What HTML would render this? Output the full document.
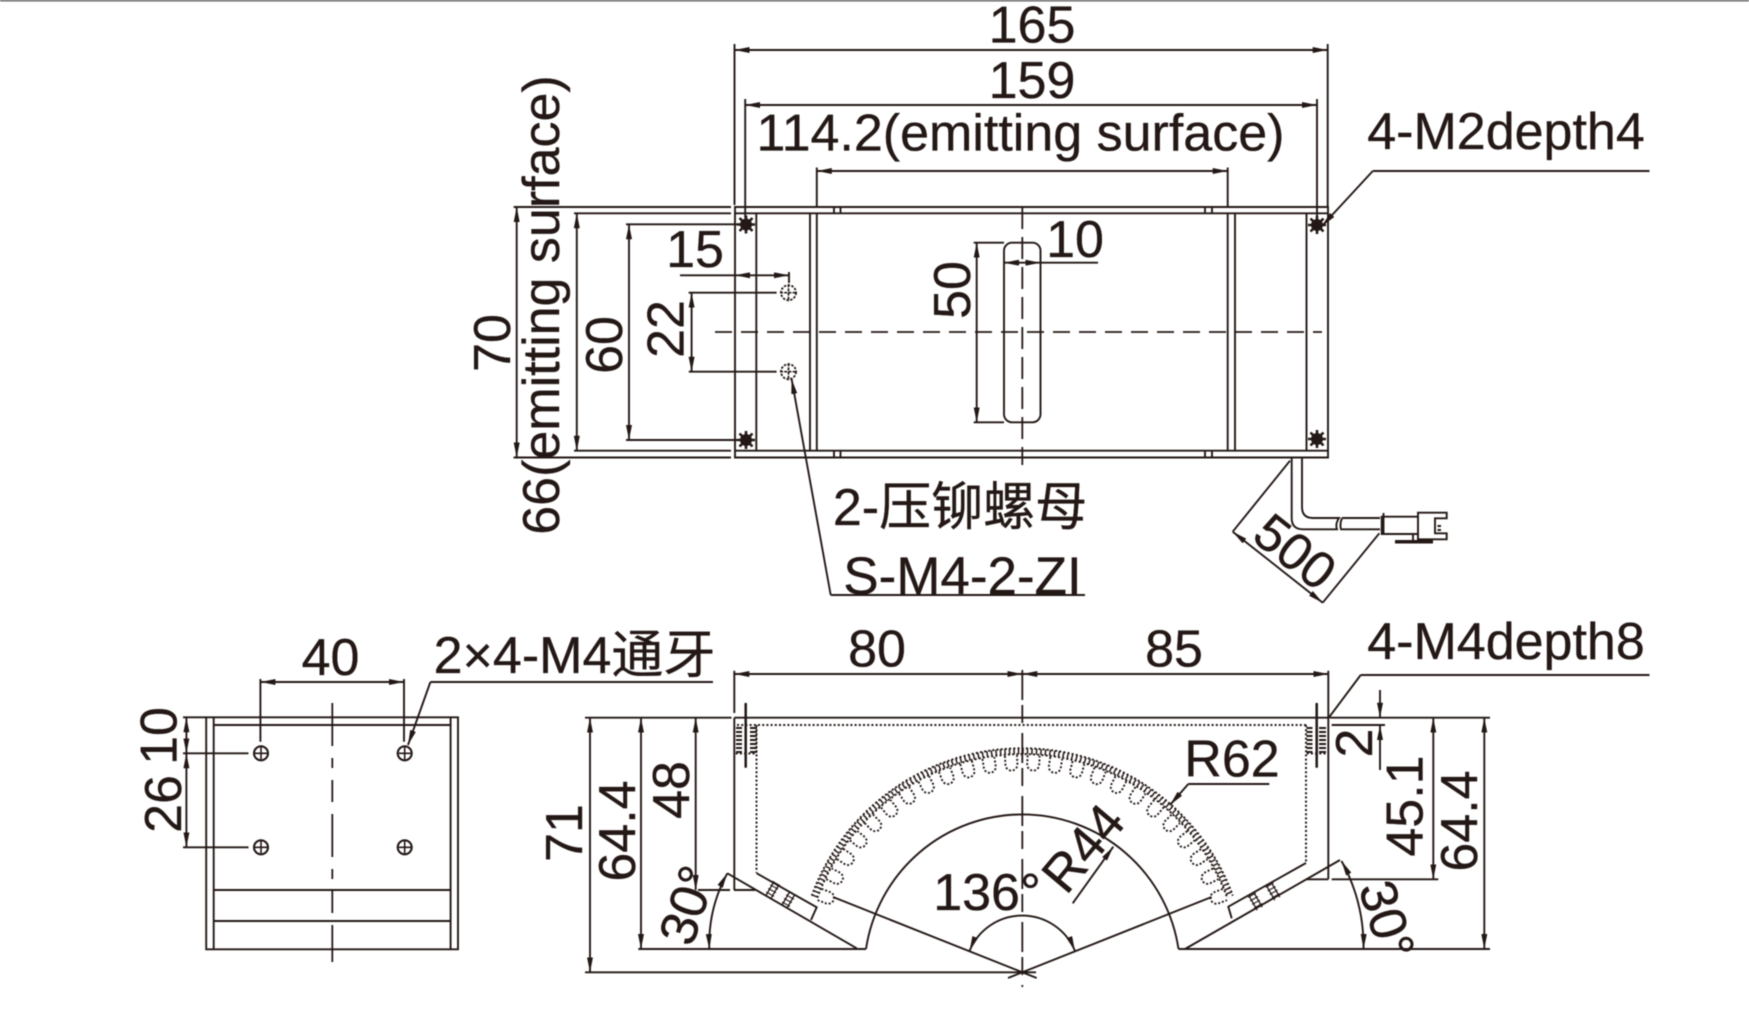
<!DOCTYPE html>
<html>
<head>
<meta charset="utf-8">
<style>
html,body{margin:0;padding:0;background:#fff;width:1749px;height:1031px;overflow:hidden}
svg{display:block;filter:blur(.4px)}
text{font-family:"Liberation Sans","Noto Sans CJK SC",sans-serif;font-size:52px;fill:#231815;stroke:#231815;stroke-width:.35;text-anchor:middle}
.l,.a,.e,.s{fill:none;stroke:#231815;stroke-width:1.9}
.a{marker-start:url(#m);marker-end:url(#m)}
.e{marker-end:url(#m)}
.s{marker-start:url(#m)}
.d{fill:none;stroke:#231815;stroke-width:2;stroke-dasharray:2 2.2}
.c{fill:none;stroke:#231815;stroke-width:1.8}
</style>
</head>
<body>
<svg width="1749" height="1031" viewBox="0 0 1749 1031" xmlns="http://www.w3.org/2000/svg">
<defs>
<marker id="m" viewBox="0 0 15 6" refX="15" refY="3" markerUnits="userSpaceOnUse" markerWidth="15" markerHeight="6" orient="auto-start-reverse"><path d="M0 0L15 3L0 6z" fill="#231815"/></marker>
<g id="star"><path d="M-9 0H9M0-9V9M-6.5-6.5L6.5 6.5M-6.5 6.5L6.5-6.5" stroke="#231815" stroke-width="2.6" fill="none"/><circle r="6" fill="#231815"/></g>
<g id="nut"><circle r="7.5" fill="none" stroke="#231815" stroke-width="1.8" stroke-dasharray="2.4 1.4"/><path d="M-8.5 0H8.5M0-8.5V8.5" stroke="#231815" stroke-width="1.7" stroke-dasharray="3 1.2" fill="none"/></g>
<g id="hole"><circle r="7" fill="none" stroke="#231815" stroke-width="2.1"/><path d="M-6 0H6M0-6V6" stroke="#231815" stroke-width="1.6" fill="none"/></g>
<path id="t" d="M-6-217V-208A6 6 0 0 0 6-208V-217" fill="none" stroke="#231815" stroke-width="1.9" stroke-dasharray="2 1.9"/>
</defs>
<rect width="1749" height="1.5" fill="#666"/>

<!-- TOP VIEW -->
<path class="l" d="M735 207H1328V457.5H735zM735 213.3H1328M735 450.7H1328"/>
<path class="l" d="M756.3 213V451M810 213V451M816.8 213V451M1227.7 213V451M1235 213V451M1306.5 213V451"/>
<path class="l" d="M834 207V213M840.5 207V213M1205 207V213M1212 207V213M834 451V457M840.5 451V457M1205 451V457M1212 451V457"/>
<rect class="l" x="1004" y="242.7" width="36.5" height="179.6" rx="8"/>
<path class="c" stroke-dasharray="17 9" d="M715 332H1322"/>
<path class="c" stroke-dasharray="22 8" d="M1022.3 207V465"/>
<use href="#star" x="746" y="224.5"/><use href="#star" x="1317" y="225"/>
<use href="#star" x="746" y="440"/><use href="#star" x="1317" y="439"/>
<use href="#nut" x="788.5" y="292.7"/><use href="#nut" x="788.5" y="371.7"/>

<!-- top dims -->
<path class="l" d="M734.5 44V205M1327.7 44V207M745.2 99V218M1317 99V218M816.8 167.5V207M1227.7 167.5V207"/>
<path class="a" d="M734.5 50H1327.7"/>
<path class="a" d="M745.2 105H1317"/>
<path class="a" d="M816.8 171H1227.7"/>
<path class="l" d="M513.6 207H731M574 213.3H731M626 224.3H740M626 440H740M513.6 457.5H731M574 450.7H731"/>
<path class="a" d="M516.7 207V457.5"/>
<path class="a" d="M576.8 213.3V450.7"/>
<path class="a" d="M629 224.3V440"/>
<path class="l" d="M688.6 292.7H776.6M688.8 371.7H776.6"/>
<path class="a" d="M691.6 292.7V371.7"/>
<path class="l" d="M680 275.3H735M789 272V283"/>
<path class="a" d="M735 275.3H789"/>
<path class="l" d="M973.7 242.7H1004M973.7 422.3H1004"/>
<path class="a" d="M976.7 242.7V422.3"/>
<path class="l" d="M1040.5 262.7H1098"/>
<path class="s" d="M1004 262.7H1022"/><path class="e" d="M1022 262.7H1040.5"/>
<path class="l" d="M1372.8 171H1649.5"/>
<path class="e" d="M1372.8 171L1322 226"/>
<path class="l" d="M830.7 595H1085"/>
<path class="e" d="M830.7 595L791.6 379"/>

<!-- cable -->
<path class="l" d="M1291.7 458V518Q1291.7 529.3 1303 529.3H1337Q1335 524 1339 518H1313Q1302 518 1302 507V458M1342 518Q1339.5 524 1341 529.3H1380M1342 518H1380"/>
<path class="l" d="M1381.7 516.7H1418V534H1381.7zM1383.5 513V534M1418 512.7H1446.7V518.3H1435V533.3H1446.7V539.3H1418zM1437.5 526H1441M1437.5 530H1441"/>
<path class="l" d="M1413 534V541"/>
<path d="M1395 541.7H1433" stroke="#231815" stroke-width="3.5"/>
<path class="l" d="M1232.7 531.7L1290 460.7M1322.7 602.7L1379.3 533.3"/>
<path class="a" d="M1232.7 531.7L1322.7 602.7"/>

<!-- LEFT VIEW -->
<path class="l" d="M206.2 717.3H458V949.3H206.2zM213.7 717.3V949.3M450.6 717.3V949.3M213.7 725H450.6M213.7 890H450.6M213.7 921H450.6"/>
<path class="c" stroke-dasharray="43 12 10 12 22 12" d="M332.3 703V962"/>
<use href="#hole" x="261" y="753.3"/><use href="#hole" x="404.7" y="753.3"/>
<use href="#hole" x="261" y="847.3"/><use href="#hole" x="404.7" y="847.3"/>
<path class="l" d="M260.4 679V741.7M404 679V741.7"/>
<path class="a" d="M260.4 682H404"/>
<path class="l" d="M430.4 682H713"/>
<path class="e" d="M430.4 682L408 745"/>
<path class="l" d="M183 717.3H206M183 753.3H248.5M183 847.3H248.5"/>
<path class="a" d="M186.4 717.3V753.3"/>
<path class="a" d="M186.4 753.3V847.3"/>

<!-- SECTION VIEW -->
<path class="l" d="M585 717.7H731.5M734.3 717.7H1328M734.3 670.7V713M734.3 717.7V890M698 890H730M734 890H755"/>
<path class="d" d="M737 725H1306.7M756.5 725V873M1306 725V863M735.7 753.5H755M1306.7 753.5H1326"/>
<path class="l" d="M1328.3 670.7V879.3M1306 879.3H1328.3M1331.7 879.3H1438.3"/>
<path class="a" d="M734.3 674H1022.3"/>
<path class="a" d="M1022.3 674H1328.3"/>
<path class="c" stroke-dasharray="30 5 18 10" d="M1022.3 670V987"/>
<path fill="none" stroke="#231815" stroke-width="2.5" d="M745.7 703V767.7M1316.7 703V767.7"/>
<path fill="none" stroke="#231815" stroke-width="6" stroke-dasharray="2 2" d="M739 727V753M1309.5 727V753"/>
<path fill="none" stroke="#231815" stroke-width="7" stroke-dasharray="2 2" d="M753.5 727V753M1322.5 727V753"/>
<!-- slanted blocks -->
<path class="l" d="M727.3 873.3L856.7 948.3M756.7 873.3L816.7 907.3L811 920"/>
<path class="l" d="M1185 949L1340 860M1306 863L1228.3 906.7L1231.7 918.3"/>
<path fill="none" stroke="#231815" stroke-width="9" stroke-dasharray="1.1 3" d="M776.5 883L768.5 897M792.3 893L784.3 907M1251.7 894.7L1259.7 908.7M1269.3 884.7L1277.3 898.7"/>
<path fill="none" stroke="#231815" stroke-width="1.3" d="M779 884.5L771 898.5M774 881.5L766 895.5M794.8 894.5L786.8 908.5M789.8 891.5L781.8 905.5M1249.2 896.2L1257.2 910.2M1254.2 893.2L1262.2 907.2M1266.8 886.2L1274.8 900.2M1271.8 883.2L1279.8 897.2"/>
<!-- bottom lines -->
<path class="l" d="M638.3 949H866M1178.5 949H1490M585 972.3H1036"/>
<path class="l" d="M866 949A158 158 0 0 1 1178.5 949"/>
<path class="l" d="M833 897L1036.7 978M1211.6 897L1008 978"/>
<!-- R62 teeth -->
<path class="d" d="M811.8 895.7A224 224 0 0 1 1232.8 895.7"/>
<path class="d" d="M817.4 897.7A218 218 0 0 1 1227.2 897.7"/>
<path fill="none" stroke="#231815" stroke-width="6" stroke-dasharray="1.5 3" d="M814.6 896.7A221 221 0 0 1 1230 896.7"/>
<g transform="translate(1022.3 972.3)">
<use href="#t" transform="rotate(-69)"/><use href="#t" transform="rotate(-63)"/><use href="#t" transform="rotate(-57)"/><use href="#t" transform="rotate(-51)"/><use href="#t" transform="rotate(-45)"/><use href="#t" transform="rotate(-39)"/><use href="#t" transform="rotate(-33)"/><use href="#t" transform="rotate(-27)"/><use href="#t" transform="rotate(-21)"/><use href="#t" transform="rotate(-15)"/><use href="#t" transform="rotate(-9)"/><use href="#t" transform="rotate(-3)"/><use href="#t" transform="rotate(3)"/><use href="#t" transform="rotate(9)"/><use href="#t" transform="rotate(15)"/><use href="#t" transform="rotate(21)"/><use href="#t" transform="rotate(27)"/><use href="#t" transform="rotate(33)"/><use href="#t" transform="rotate(39)"/><use href="#t" transform="rotate(45)"/><use href="#t" transform="rotate(51)"/><use href="#t" transform="rotate(57)"/><use href="#t" transform="rotate(63)"/><use href="#t" transform="rotate(69)"/>
</g>
<!-- section dims -->
<path class="a" d="M590 717.7V972.3"/>
<path class="a" d="M641 717.7V949"/>
<path class="a" d="M695.7 717.7V890"/>
<path class="a" d="M1433.3 717.7V879.3"/>
<path class="a" d="M1484.3 717.7V949"/>
<path class="l" d="M1330 717.7H1490M1331.7 725H1385"/>
<path class="e" d="M1380 690V717.7"/>
<path class="e" d="M1380 770V725"/>
<path class="a" d="M969.5 951A57 57 0 0 1 1075 951"/>
<path class="a" d="M709.3 949A148 148 0 0 1 727.3 873.3"/>
<path class="a" d="M1363.5 949A177 177 0 0 0 1341.5 861"/>
<path class="l" d="M1188.3 784H1269.3"/>
<path class="e" d="M1188.3 784L1170 805"/>
<path class="e" d="M1072.7 903.3L1113.3 846.7"/>
<path class="l" d="M1360.7 675H1649.5"/>
<path class="l" d="M1360.7 675L1328.3 718.3"/>

<!-- LABELS -->
<text x="1032" y="42.5">165</text>
<text x="1032" y="98">159</text>
<text x="1020.5" y="150.7">114.2(emitting surface)</text>
<text x="1506" y="149">4-M2depth4</text>
<text x="1075" y="257">10</text>
<text x="695" y="267">15</text>
<text transform="translate(970 290) rotate(-90)">50</text>
<text transform="translate(683.6 329) rotate(-90)">22</text>
<text transform="translate(622 345) rotate(-90)">60</text>
<text transform="translate(510 343) rotate(-90)">70</text>
<text transform="translate(559 305) rotate(-90)">66(emitting surface)</text>
<text x="960" y="525">2-压铆螺母</text>
<text x="962.5" y="594" style="font-size:53px">S-M4-2-ZI</text>
<text transform="translate(1284 565.7) rotate(38.3)">500</text>
<text x="330.5" y="675">40</text>
<text x="574.5" y="673">2×4-M4通牙</text>
<text transform="translate(181 804) rotate(-90)">26</text>
<text transform="translate(176.5 736) rotate(-90)">10</text>
<text transform="translate(582 833) rotate(-90)">71</text>
<text transform="translate(635 831) rotate(-90)">64.4</text>
<text transform="translate(689 790) rotate(-90)">48</text>
<text transform="translate(704.3 910.6) rotate(-72)">30°</text>
<text transform="translate(1369.8 925) rotate(73)">30°</text>
<text x="987" y="910">136°</text>
<text x="1232" y="776.7">R62</text>
<text transform="translate(1096.8 859.6) rotate(-50)">R44</text>
<text x="877" y="666.5">80</text>
<text x="1174" y="666.5">85</text>
<text transform="translate(1372 743) rotate(-90)">2</text>
<text transform="translate(1422.7 806) rotate(-90)">45.1</text>
<text transform="translate(1477 821) rotate(-90)">64.4</text>
<text x="1506" y="659">4-M4depth8</text>
</svg>
</body>
</html>
